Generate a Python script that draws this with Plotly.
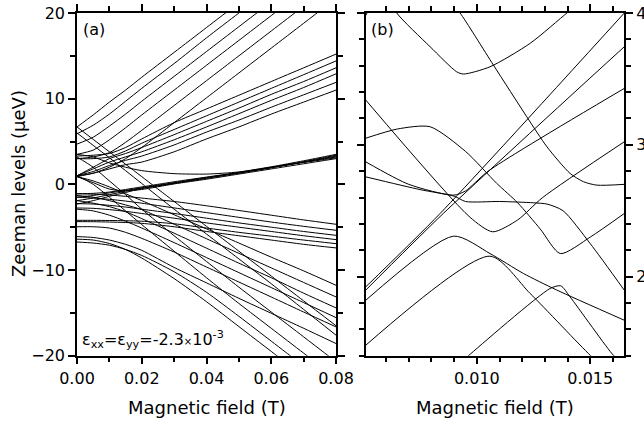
import plotly.graph_objects as go

# ---- panel (a): Zeeman levels vs field, sampled at these fields (T)
field_a = [0, 0.005, 0.01, 0.015, 0.02, 0.03, 0.04, 0.05, 0.06, 0.07, 0.08]

# Sz = +5/2 like branches (leave through the top)
levels_p52 = [
    [6.7, 8.1, 9.6, 11.0, 12.5, 15.4, 18.3, 21.2, 24.1, 27.0, 29.9],
    [5.9, 6.9, 8.2, 9.7, 11.2, 14.1, 17.1, 20.0, 22.9, 25.8, 28.7],
    [4.7, 5.5, 6.8, 8.2, 9.7, 12.6, 15.5, 18.4, 21.3, 24.2, 27.1],
    [3.5, 4.0, 5.2, 6.6, 8.1, 11.0, 13.9, 16.8, 19.7, 22.6, 25.5],
    [3.0, 3.2, 3.7, 4.9, 6.3, 9.2, 12.1, 15.0, 17.9, 20.8, 23.7],
    [1.0, 1.3, 2.0, 3.0, 4.3, 7.2, 10.1, 13.0, 15.9, 18.8, 21.7],
]
# Sz = +3/2 like branches
levels_p32 = [
    [3.3, 3.4, 3.6, 4.3, 5.3, 7.2, 8.8, 10.4, 12.0, 13.6, 15.2],
    [3.0, 3.0, 3.2, 3.9, 4.8, 6.4, 8.0, 9.6, 11.2, 12.8, 14.4],
    [1.0, 2.0, 3.0, 3.6, 4.3, 5.8, 7.35, 8.9, 10.5, 12.0, 13.6],
    [1.0, 1.8, 2.6, 3.2, 3.8, 5.2, 6.7, 8.25, 9.8, 11.3, 12.9],
    [1.0, 1.5, 2.2, 2.8, 3.3, 4.6, 6.1, 7.5, 9.0, 10.45, 11.9],
    [0.9, 1.3, 1.8, 2.3, 2.6, 3.8, 5.3, 6.7, 8.2, 9.6, 11.0],
]
# Sz = +1/2 like branches (the tight bundle)
levels_p12 = [
    [3.5, 3.2, 2.5, 2.0, 1.6, 1.25, 1.2, 1.45, 2.05, 2.75, 3.5],
    [0.9, 0.2, -0.55, -0.75, -0.6, 0.05, 0.6, 1.2, 1.8, 2.4, 3.0],
    [-1.1, -1.05, -0.9, -0.6, -0.3, 0.3, 0.85, 1.4, 2.0, 2.55, 3.1],
    [-1.5, -1.3, -1.0, -0.7, -0.4, 0.2, 0.8, 1.35, 1.95, 2.6, 3.2],
    [-1.9, -1.6, -1.2, -0.8, -0.45, 0.15, 0.75, 1.35, 1.95, 2.6, 3.3],
    [-2.3, -1.9, -1.4, -0.95, -0.5, 0.1, 0.7, 1.3, 1.95, 2.65, 3.4],
]
# Sz = -1/2 like branches
levels_m12 = [
    [-1.1, -1.15, -1.25, -1.4, -1.6, -2.0, -2.5, -3.05, -3.6, -4.15, -4.66],
    [-1.5, -1.6, -1.75, -1.95, -2.2, -2.75, -3.3, -3.85, -4.4, -4.9, -5.36],
    [-2.25, -2.3, -2.45, -2.65, -2.9, -3.4, -3.95, -4.5, -5.0, -5.5, -5.95],
    [-2.76, -2.8, -2.95, -3.15, -3.4, -3.95, -4.5, -5.0, -5.5, -6.0, -6.45],
    [-4.2, -4.2, -4.22, -4.25, -4.3, -4.6, -5.1, -5.6, -6.05, -6.5, -6.92],
    [-4.35, -4.36, -4.4, -4.45, -4.55, -4.95, -5.5, -6.0, -6.5, -7.0, -7.42],
]
# Sz = -3/2 like branches
levels_m32 = [
    [0.9, 0.4, -0.3, -1.1, -1.9, -3.55, -5.2, -6.85, -8.5, -10.1, -11.78],
    [-1.3, -1.5, -1.9, -2.4, -2.95, -4.65, -6.35, -8.05, -9.75, -11.45, -13.14],
    [-1.9, -2.2, -2.6, -3.2, -4.0, -5.7, -7.45, -9.2, -10.9, -12.7, -14.42],
    [-2.9, -3.1, -3.6, -4.3, -5.1, -6.8, -8.55, -10.3, -12.05, -13.8, -15.55],
    [-4.95, -4.95, -5.1, -5.6, -6.3, -7.9, -9.65, -11.4, -13.15, -14.9, -16.64],
    [-6.1, -6.2, -6.5, -7.0, -7.7, -9.7, -11.5, -13.3, -15.05, -16.8, -18.58],
]
# Sz = -5/2 like branches (steep down)
levels_m52 = [
    [6.7, 5.25, 3.8, 2.35, 0.9, -2.0, -4.9, -7.8, -10.7, -13.6, -16.5],
    [6.0, 4.55, 3.1, 1.6, 0.1, -2.9, -5.8, -8.7, -11.6, -14.6, -17.6],
    [-6.4, -6.5, -6.9, -7.6, -8.6, -11.0, -13.7, -16.6, -19.5, -22.4, -25.3],
    [-6.73, -6.85, -7.1, -7.6, -8.3, -10.2, -12.6, -15.4, -18.3, -21.2, -24.1],
    [1.0, 0.0, -1.5, -3.1, -4.7, -7.8, -10.9, -13.9, -16.8, -19.7, -22.6],
    [3.2, 2.0, 0.4, -1.2, -2.9, -6.0, -9.0, -12.0, -14.9, -17.8, -20.7],
]

# ---- panel (b): close-up of the anticrossings, each branch with its own fields
zoom_fields = [
    [0.0051, 0.0056],
    [0.0062, 0.00647, 0.00794, 0.00911, 0.00941, 0.01058, 0.01235, 0.01397, 0.0142],
    [0.0090, 0.00926, 0.01073, 0.0122, 0.01309, 0.01411, 0.0147, 0.01529, 0.0165],
    [0.0051, 0.00838, 0.0165],
    [0.0051, 0.00852, 0.0165],
    [0.0051, 0.0097, 0.0107, 0.0118, 0.0129, 0.0165],
    [0.0051, 0.0065, 0.00794, 0.0095, 0.01088, 0.0118, 0.0128, 0.01368, 0.015, 0.0165],
    [0.0051, 0.0070, 0.00897, 0.0095, 0.0105, 0.0165],
    [0.0051, 0.0075, 0.0090, 0.0095, 0.0110, 0.0125, 0.0131, 0.0138, 0.0150, 0.0165],
    [0.0051, 0.00897, 0.01058, 0.01205, 0.0135, 0.0165],
    [0.0051, 0.01058, 0.01235, 0.0150, 0.0155],
    [0.0095, 0.00963, 0.01323, 0.0137, 0.01411, 0.01602, 0.0162],
]
zoom_levels = [
    [3.98, 4.15],
    [4.1, 4.0, 3.744, 3.554, 3.537, 3.592, 3.77, 4.0, 4.03],
    [4.05, 4.0, 3.605, 3.213, 2.985, 2.783, 2.72, 2.694, 2.70],
    [1.922, 2.479, 4.0],
    [1.897, 2.479, 3.744],
    [3.34, 2.45, 2.34, 2.43, 2.6, 3.023],
    [3.05, 3.12, 3.137, 2.95, 2.707, 2.56, 2.36, 2.175, 2.30, 2.479],
    [2.871, 2.70, 2.618, 2.65, 2.80, 3.428],
    [2.757, 2.66, 2.61, 2.57, 2.57, 2.56, 2.55, 2.50, 2.25, 1.897],
    [1.82, 2.307, 2.175, 2.024, 1.90, 1.669],
    [1.479, 2.155, 1.872, 1.403, 1.33],
    [1.38, 1.4, 1.91, 1.93, 1.846, 1.403, 1.38],
]

W, H = 644, 424
FONT = "DejaVu Sans"
line_style = dict(color="black", width=1, shape="spline", smoothing=0.7)

fig = go.Figure()

for group in [levels_p52, levels_p32, levels_p12, levels_m12, levels_m32, levels_m52]:
    for lv in group:
        fig.add_trace(go.Scatter(x=field_a, y=lv, mode="lines", line=line_style,
                                 showlegend=False, hoverinfo="skip"))

for fx, fy in zip(zoom_fields, zoom_levels):
    fig.add_trace(go.Scatter(x=fx, y=fy, mode="lines", line=line_style,
                             xaxis="x2", yaxis="y2", showlegend=False, hoverinfo="skip"))


def px_x(p):
    return p / W


def px_y(p):
    return 1 - p / H


frame = dict(showline=True, linecolor="black", linewidth=1.5, mirror="ticks",
             ticks="outside", ticklen=7, tickwidth=1.5, tickcolor="black",
             showgrid=False, zeroline=False,
             tickfont=dict(family=FONT, size=16, color="black"))

fig.update_layout(
    width=W, height=H,
    margin=dict(l=0, r=0, t=0, b=0, autoexpand=False),
    paper_bgcolor="white", plot_bgcolor="white",
    xaxis=dict(domain=[px_x(77), px_x(336)], range=[0, 0.08], dtick=0.02,
               tickformat=".2f", anchor="y",
               minor=dict(dtick=0.01, ticks="outside", ticklen=5, tickwidth=1.5, tickcolor="black"),
               **frame),
    yaxis=dict(domain=[px_y(355.7), px_y(13)], range=[-20, 20], dtick=10, anchor="x",
               minor=dict(dtick=5, ticks="outside", ticklen=5, tickwidth=1.5, tickcolor="black"),
               **frame),
    xaxis2=dict(domain=[px_x(365.7), px_x(624.3)], range=[0.0051, 0.0165], tick0=0,
                dtick=0.005, tickformat=".3f", anchor="y2",
                minor=dict(dtick=0.001, ticks="outside", ticklen=5, tickwidth=1.5, tickcolor="black"),
                **frame),
    yaxis2=dict(domain=[px_y(355.7), px_y(13)], range=[1.4, 4.0], dtick=1, side="right",
                anchor="x2",
                minor=dict(dtick=0.2, ticks="outside", ticklen=5, tickwidth=1.5, tickcolor="black"),
                **frame),
)

ann_font = dict(family=FONT, size=16, color="black")
title_font = dict(family=FONT, size=18, color="black")
common = dict(xref="paper", yref="paper", showarrow=False)
fig.add_annotation(x=px_x(18), y=px_y(184), text="Zeeman levels (\u03bceV)", textangle=-90,
                   xanchor="center", yanchor="middle", font=title_font, **common)
fig.add_annotation(x=px_x(207), y=px_y(407), text="Magnetic field (T)",
                   xanchor="center", yanchor="middle", font=title_font, **common)
fig.add_annotation(x=px_x(495), y=px_y(407), text="Magnetic field (T)",
                   xanchor="center", yanchor="middle", font=title_font, **common)
fig.add_annotation(x=px_x(81), y=px_y(29), text="(a)",
                   xanchor="left", yanchor="middle", font=ann_font, **common)
fig.add_annotation(x=px_x(369), y=px_y(29), text="(b)",
                   xanchor="left", yanchor="middle", font=ann_font, **common)
fig.add_annotation(x=px_x(80), y=px_y(353), font=ann_font, xanchor="left", yanchor="bottom",
                   text="\u03b5<sub>xx</sub>=\u03b5<sub>yy</sub>=-2.3<span style='font-size:10px'>\u00d7</span>10<sup>-3</sup>",
                   **common)

# drop the browser's default page margin so the figure sits at the window corner
fig.write_html("out.html", config={"displayModeBar": False},
               post_script="document.body.style.margin='0';")
